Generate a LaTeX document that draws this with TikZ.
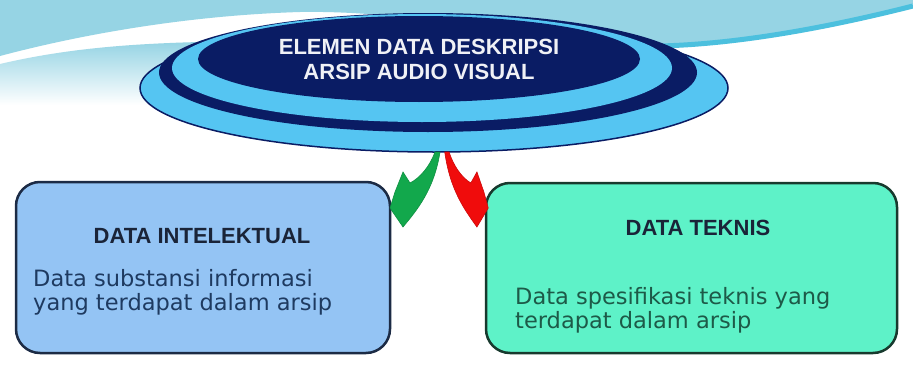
\documentclass[tikz,border=0pt]{standalone}
\usepackage{fontspec}
\setmainfont{Liberation Sans}
\newfontfamily\bodyfont{DejaVu Sans}
\usetikzlibrary{shapes.geometric}
\definecolor{navy}{HTML}{0A1C64}
\definecolor{skyb}{HTML}{55C5F2}
\definecolor{bgblue}{HTML}{96D4E4}
\definecolor{bgcyan}{HTML}{4CC0DE}
\definecolor{boxblue}{HTML}{94C4F4}
\definecolor{boxaqua}{HTML}{5EF2C8}
\definecolor{boxline}{HTML}{1C2B45}
\definecolor{boxlineg}{HTML}{183A2E}
\definecolor{ttl}{HTML}{1A2438}
\definecolor{bodyblue}{HTML}{1E3A60}
\definecolor{bodygreen}{HTML}{1D5A48}
\definecolor{arrgreen}{HTML}{12A84C}
\definecolor{arrred}{HTML}{F00C0C}
\begin{document}
\begin{tikzpicture}[x=1pt,y=-1pt,
  panel/.style={line width=2.5pt, rounded corners=24pt, inner sep=0pt},
  ttlstyle/.style={font=\bfseries\fontsize{22}{26}\selectfont, text=ttl, inner sep=0pt},
  bodystyle/.style={font=\bodyfont\fontsize{22.5}{23.5}\selectfont, align=left, inner sep=0pt},
  headstyle/.style={ellipse, fill=navy, inner sep=0pt, text=white!94!navy, align=center,
    font=\bfseries\fontsize{22}{25}\selectfont},
  arrowshape/.style={line width=0.6pt}
]
\useasboundingbox (0,0) rectangle (913,388);
\fill[white] (0,0) rectangle (913,388);
% background swooshes
\fill[bgblue] (0,0) -- (913,0) -- (913,4) .. controls (830,25) and (740,44) .. (660,44)
  .. controls (520,40) and (420,10) .. (300,12) .. controls (170,16) and (60,40) .. (0,56) -- cycle;
\draw[bgcyan, line width=5pt] (913,6) .. controls (830,27) and (740,44) .. (660,46);
\shade[top color=bgblue, bottom color=white] (0,64) .. controls (60,50) and (120,44) .. (200,42)
  -- (200,105) -- (0,105) -- cycle;
% stacked ellipses
\fill[skyb, draw=navy, line width=1.5pt] (434,88) ellipse [x radius=294pt, y radius=64pt];
\fill[navy] (428,72.5) ellipse [x radius=269pt, y radius=59.5pt];
\fill[skyb] (422,68) ellipse [x radius=250pt, y radius=54pt];
\node[headstyle, minimum width=442pt, minimum height=86pt] (head) at (419,59)
  {ELEMEN DATA DESKRIPSI\\ARSIP AUDIO VISUAL};
% panels
\node[panel, draw=boxline, fill=boxblue, minimum width=374pt, minimum height=171pt] (intel) at (203,267.5) {};
\node[panel, draw=boxlineg, fill=boxaqua, minimum width=411pt, minimum height=170pt] (tek) at (691.5,268) {};
\node[ttlstyle, anchor=base] (intelT) at (202,243) {DATA INTELEKTUAL};
\node[ttlstyle, anchor=base] (tekT) at (698,235) {DATA TEKNIS};
\node[bodystyle, text=bodyblue, anchor=base west] (intelB) at (33,310)
  {Data substansi informasi\\yang terdapat dalam arsip};
\node[bodystyle, text=bodygreen, anchor=base west] (tekB) at (515,328)
  {Data spesifikasi teknis yang\\terdapat dalam arsip};
% arrows from the title disc to the two panels
\coordinate (src) at (442,152);
\coordinate (srcr) at (443,152);
\begin{scope}[shift={(src)}]
\fill[arrgreen, draw=arrgreen!85!black, arrowshape] (-7,0) .. controls (-12,14) and (-22,26) .. (-32,31)
  -- (-39,20) -- (-47,40) -- (-52,56)
  -- (-39,75) .. controls (-25,58) and (-8,38) .. (-2,0) -- cycle;
\end{scope}
\begin{scope}[shift={(srcr)}, xscale=-0.87]
\fill[arrred, draw=arrred!85!black, arrowshape] (-7,0) .. controls (-12,14) and (-22,26) .. (-32,31)
  -- (-39,20) -- (-47,40) -- (-52,56)
  -- (-39,75) .. controls (-25,58) and (-8,38) .. (-2,0) -- cycle;
\end{scope}
\end{tikzpicture}
\end{document}
